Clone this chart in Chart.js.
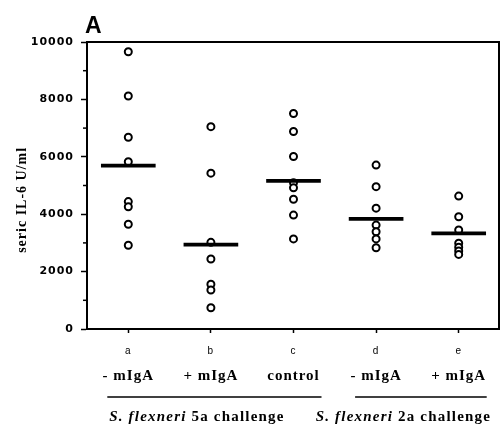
<!DOCTYPE html>
<html>
<head>
<meta charset="utf-8">
<script src="https://cdn.jsdelivr.net/npm/chart.js@4.4.1/dist/chart.umd.min.js"></script>
<style>
  html, body { margin: 0; padding: 0; background: #fff; }
</style>
</head>
<body>
<canvas id="il6Chart" width="500" height="426"></canvas>
<script>
// Categories and labels
const letters = ["a", "b", "c", "d", "e"];
const treatments = ["- mIgA", "+ mIgA", "control", "- mIgA", "+ mIgA"];
const challenges = ["5a", "2a"];

// Individual serum IL-6 values (U/ml) per group
const groupA = [9660, 8120, 6680, 5830, 4440, 4260, 3650, 2920];
const groupB = [7050, 5430, 3020, 2440, 1560, 1360, 740];
const groupC = [7510, 6880, 6010, 5100, 4920, 4520, 3970, 3140];
const groupD = [5710, 4960, 4210, 3620, 3390, 3140, 2830];
const groupE = [4630, 3910, 3450, 2990, 2850, 2720, 2600];
const groupMeans = [5690, 2940, 5160, 3840, 3330];

const groups = [groupA, groupB, groupC, groupD, groupE];

// flatten into points on the category axis
const points = [];
groups.forEach((vals, i) => {
  vals.forEach((v) => points.push({ x: letters[i], y: v }));
});
// mean marks: thin floating bars (about 3px tall)
const meanBars = groupMeans.map((v, i) => ({ x: letters[i], y: [v - 55, v + 55] }));

const serif = "'Liberation Serif', 'Times New Roman', serif";
const sans = "'Liberation Sans', Arial, sans-serif";

// the scanned figure uses loosely spaced lettering
const spacing = {
  id: "spacing",
  beforeLayout(chart) { chart.ctx.letterSpacing = "1px"; },
  beforeDraw(chart) { chart.ctx.letterSpacing = "1px"; },
};

// extra drawing: frame, minor ticks, titles, challenge groups
const decorations = {
  id: "decorations",
  afterDraw(chart) {
    const ctx = chart.ctx;
    const area = chart.chartArea;
    const x = chart.scales.x;
    const y = chart.scales.y;
    ctx.save();
    ctx.strokeStyle = "#000";
    ctx.fillStyle = "#000";

    // top and right frame
    ctx.lineWidth = 2;
    ctx.beginPath();
    ctx.moveTo(area.left - 1, area.top);
    ctx.lineTo(area.right - 1, area.top);
    ctx.lineTo(area.right - 1, area.bottom);
    ctx.stroke();

    // minor ticks every 1000
    ctx.lineWidth = 1.5;
    for (let v = 1000; v < 10000; v += 2000) {
      const py = y.getPixelForValue(v);
      ctx.beginPath();
      ctx.moveTo(area.left - 4, py);
      ctx.lineTo(area.left, py);
      ctx.stroke();
    }

    // panel letter
    ctx.letterSpacing = "0px";
    ctx.font = "bold 23px " + sans;
    ctx.textAlign = "left";
    ctx.textBaseline = "alphabetic";
    ctx.fillText("A", 85, 33);

    // y axis title
    ctx.letterSpacing = "1px";
    ctx.save();
    ctx.translate(21, y.getPixelForValue(4500));
    ctx.rotate(-Math.PI / 2);
    ctx.font = "bold 14px " + serif;
    ctx.textAlign = "center";
    ctx.fillText("seric IL-6 U/ml", 0, 5);
    ctx.restore();

    // challenge groups: underline + label
    const spans = [[0, 2], [3, 4]];
    ctx.letterSpacing = "1.2px";
    spans.forEach((s, i) => {
      const x0 = x.getPixelForValue(s[0]) - 21;
      const x1 = x.getPixelForValue(s[1]) + 28;
      ctx.lineWidth = 1.5;
      ctx.beginPath();
      ctx.moveTo(x0, 397);
      ctx.lineTo(x1, 397);
      ctx.stroke();

      const cx = (x.getPixelForValue(s[0]) + x.getPixelForValue(s[1])) / 2 - 14;
      const part1 = "S. flexneri";
      const part2 = " " + challenges[i] + " challenge";
      ctx.font = "italic bold 15px " + serif;
      const w1 = ctx.measureText(part1).width;
      ctx.font = "bold 15px " + serif;
      const w2 = ctx.measureText(part2).width;
      const start = cx - (w1 + w2) / 2;
      ctx.textAlign = "left";
      ctx.font = "italic bold 15px " + serif;
      ctx.fillText(part1, start, 421);
      ctx.font = "bold 15px " + serif;
      ctx.fillText(part2, start + w1, 421);
    });
    ctx.restore();
  },
};

const ctx = document.getElementById("il6Chart").getContext("2d");
const il6Chart = new Chart(ctx, {
  type: "scatter",
  data: {
    datasets: [
      {
        type: "bar",
        label: "mean",
        data: meanBars,
        barThickness: 54,
        backgroundColor: "#000",
        borderWidth: 0,
      },
      {
        label: "individual mice",
        data: points,
        pointStyle: "circle",
        pointRadius: 3.5,
        pointHoverRadius: 3.5,
        pointBorderWidth: 2,
        borderColor: "#000",
        backgroundColor: "#fff",
      },
    ],
  },
  options: {
    responsive: false,
    animation: false,
    devicePixelRatio: 1,
    layout: { autoPadding: false, padding: { top: 42, right: 0, left: 0, bottom: 0 } },
    plugins: {
      legend: { display: false },
      tooltip: { enabled: false },
    },
    scales: {
      x: {
        type: "category",
        labels: letters,
        position: "bottom",
        offset: true,
        grid: { drawOnChartArea: false, tickLength: 4, tickColor: "#000", tickWidth: 1.5, offset: false },
        border: { color: "#000", width: 2 },
        ticks: { padding: 12, color: "#000", font: { family: sans, size: 10 } },
        afterFit: (s) => { s.height = 29; },
      },
      x2: {
        type: "category",
        labels: treatments,
        position: "bottom",
        offset: true,
        grid: { display: false },
        border: { display: false },
        ticks: { padding: 1, color: "#000", font: { family: serif, size: 15, weight: "bold" } },
        afterFit: (s) => { s.height = 68; },
      },
      y: {
        min: 0,
        max: 10000,
        ticks: {
          stepSize: 1000,
          padding: 7,
          color: "#000",
          font: { family: "'DejaVu Sans', sans-serif", size: 11, weight: "bold" },
          callback: (v) => (v % 2000 === 0 ? v : ""),
        },
        grid: {
          drawOnChartArea: false,
          tickLength: 6,
          tickWidth: 1.5,
          tickColor: (c) => (c.tick && c.tick.value % 2000 === 0 ? "#000" : "rgba(0,0,0,0)"),
        },
        border: { color: "#000", width: 2 },
        afterFit: (s) => { s.width = 87; },
      },
    },
  },
  plugins: [spacing, decorations],
});
</script>
</body>
</html>
